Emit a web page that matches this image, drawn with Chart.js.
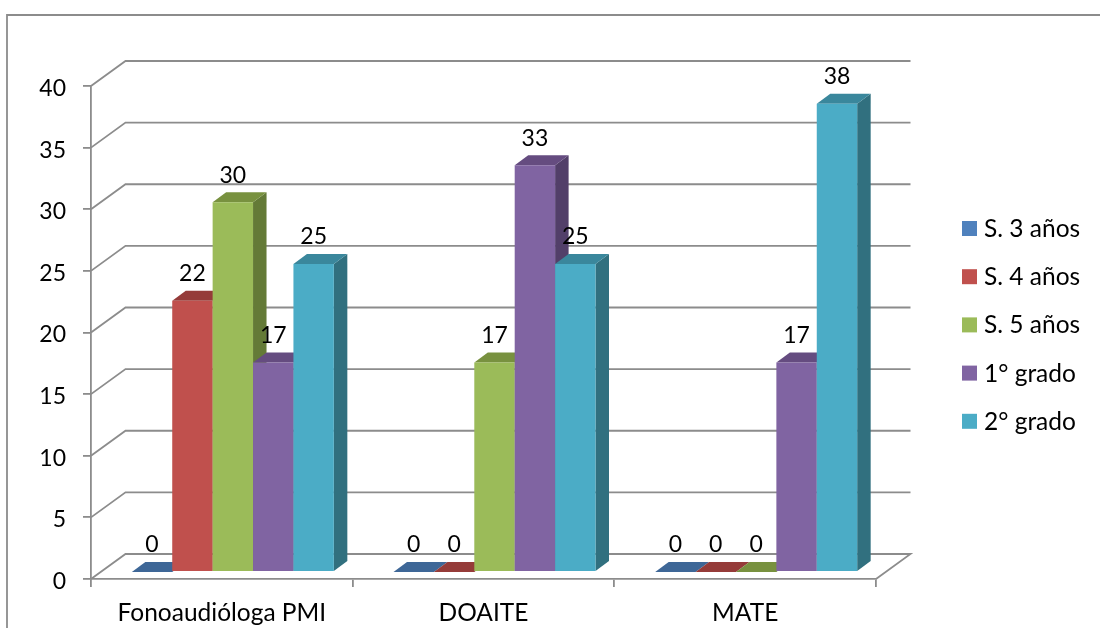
<!DOCTYPE html>
<html>
<head>
<meta charset="utf-8">
<title>Chart</title>
<script src="https://cdn.jsdelivr.net/npm/chart.js@4"></script>
<style>
  html, body { margin: 0; padding: 0; background: #fff; overflow: hidden; }
  canvas { display: block; }
</style>
</head>
<body>
<canvas id="chart" width="1100" height="628"></canvas>
<script>
// Data
const categories = ['Fonoaudióloga PMI', 'DOAITE', 'MATE'];
const s3anos = [0, 0, 0];
const s4anos = [22, 0, 0];
const s5anos = [30, 17, 0];
const grado1 = [17, 33, 17];
const grado2 = [25, 25, 38];

const seriesNames = ['S. 3 años', 'S. 4 años', 'S. 5 años', '1° grado', '2° grado'];
const seriesValues = [s3anos, s4anos, s5anos, grado1, grado2];
const frontColors = ['#4F81BD', '#C0504D', '#9BBB59', '#8064A2', '#4BACC6'];
const topColors = ['#3E6797', '#953B39', '#78913F', '#654C80', '#3A879C'];
const sideColors = ['#345580', '#7D3230', '#647A37', '#523F69', '#31707F'];

const NUM_FONT = '23px Lato';
const TEXT_FONT = '24.5px Lato';
const GRID = '#8C8C8C';
const LINE = 1.8;
const WALL = { dx: 34.5, dy: -25 };   // depth of the box
const BAR = { dx: 13.5, dy: -10 };    // depth of one bar
const SHIFT = { x: 11, y: -7 };       // bars stand inside the floor

function poly(ctx, color, pts) {
    ctx.fillStyle = color;
    ctx.beginPath();
    pts.forEach((p, i) => i ? ctx.lineTo(p[0], p[1]) : ctx.moveTo(p[0], p[1]));
    ctx.closePath();
    ctx.fill();
}

// outer frame, back wall lines and floor
function drawWalls(chart) {
    const ctx = chart.ctx;
    const { left, right } = chart.chartArea;
    const y = chart.scales.y;
    ctx.save();
    ctx.strokeStyle = GRID;
    ctx.lineWidth = LINE;
    ctx.beginPath();
    ctx.moveTo(7, 628);
    ctx.lineTo(7, 15);
    ctx.lineTo(1100, 15);
    ctx.stroke();
    y.ticks.forEach(t => {
        const py = y.getPixelForValue(t.value);
        ctx.beginPath();
        ctx.moveTo(left, py);
        ctx.lineTo(left + WALL.dx, py + WALL.dy);
        ctx.lineTo(right + WALL.dx, py + WALL.dy);
        if (t.value === 0) ctx.lineTo(right, py);
        ctx.stroke();
    });
    ctx.restore();
}

function drawBars(chart) {
    const ctx = chart.ctx;
    ctx.save();
    ctx.translate(SHIFT.x, SHIFT.y);
    seriesValues.forEach((vals, i) => {
        chart.getDatasetMeta(i).data.forEach(bar => {
            const l = bar.x - bar.width / 2, r = bar.x + bar.width / 2;
            const d = BAR;
            poly(ctx, sideColors[i], [[r, bar.y], [r + d.dx, bar.y + d.dy], [r + d.dx, bar.base + d.dy], [r, bar.base]]);
            poly(ctx, topColors[i], [[l, bar.y], [l + d.dx, bar.y + d.dy], [r + d.dx, bar.y + d.dy], [r, bar.y]]);
            bar.draw(ctx);
        });
    });
    // value labels above the bars
    ctx.font = NUM_FONT;
    ctx.fillStyle = '#000';
    ctx.textAlign = 'center';
    ctx.textBaseline = 'middle';
    seriesValues.forEach((vals, i) => {
        chart.getDatasetMeta(i).data.forEach((bar, j) => {
            ctx.fillText(String(vals[j]), bar.x, bar.y - 27);
        });
    });
    ctx.restore();
}

function drawLegend(chart) {
    const ctx = chart.ctx;
    ctx.save();
    ctx.font = TEXT_FONT;
    ctx.textAlign = 'left';
    ctx.textBaseline = 'middle';
    seriesNames.forEach((name, i) => {
        const cy = 228.5 + i * 48.2;
        ctx.fillStyle = frontColors[i];
        ctx.fillRect(962, cy - 7.5, 15, 15);
        ctx.fillStyle = '#000';
        ctx.fillText(name, 984, cy + 0.5);
    });
    ctx.restore();
}

const box3d = {
    id: 'box3d',
    afterUpdate(chart) {
        // y labels sit a little under their tick in the original
        chart.scales.y.getLabelItems(chart.chartArea).forEach(item => {
            item.options.translation[1] += 2.5;
        });
    },
    beforeDatasetsDraw(chart) {
        drawWalls(chart);
        drawBars(chart);
        drawLegend(chart);
        return false;   // bars are drawn above, first series first
    }
};

new Chart(document.getElementById('chart').getContext('2d'), {
    type: 'bar',
    data: {
        labels: categories,
        datasets: seriesNames.map((name, i) => ({
            label: name,
            data: seriesValues[i],
            backgroundColor: frontColors[i],
            borderWidth: 0,
            barPercentage: 1,
            categoryPercentage: 0.772
        }))
    },
    options: {
        responsive: false,
        animation: false,
        layout: { padding: { top: 86, right: 224 } },
        plugins: {
            legend: { display: false },
            tooltip: { enabled: false }
        },
        scales: {
            x: {
                afterFit(s) { s.height = 49; },
                border: { color: GRID, width: LINE },
                grid: { drawOnChartArea: false, color: GRID, lineWidth: LINE, tickLength: 8 },
                ticks: { color: '#000', font: { family: 'Lato', size: 24.5 }, padding: 11, maxRotation: 0 }
            },
            y: {
                min: 0,
                max: 40,
                afterFit(s) { s.width = 91; },
                border: { color: GRID, width: LINE },
                grid: { drawOnChartArea: false, color: GRID, lineWidth: LINE, tickLength: 8 },
                ticks: { stepSize: 5, color: '#000', font: { family: 'Lato', size: 23 }, padding: 17 }
            }
        }
    },
    plugins: [box3d]
});
</script>
</body>
</html>
